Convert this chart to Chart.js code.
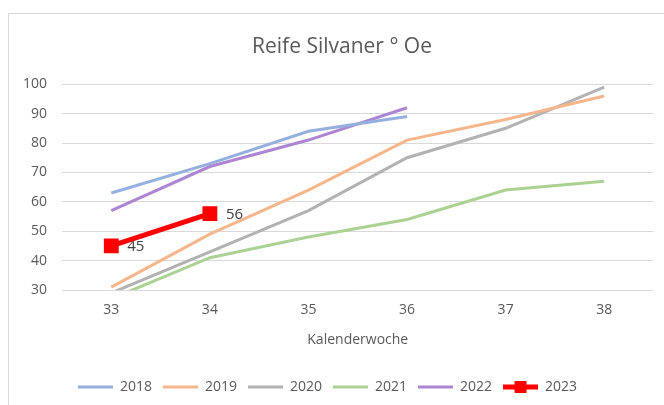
<!DOCTYPE html>
<html>
<head>
<meta charset="utf-8">
<script src="https://cdn.jsdelivr.net/npm/chart.js@4.4.1/dist/chart.umd.min.js"></script>
<style>
  html, body { margin: 0; padding: 0; background: #fff; }
  #wrap { position: relative; width: 664px; height: 405px; overflow: hidden; }
  #frame { position: absolute; left: 8px; top: 13px; width: 720px; height: 440px; border: 1px solid #d9d9d9; box-sizing: border-box; }
  #chart { position: absolute; left: 0; top: 0; }
</style>
</head>
<body>
<div id="wrap">
  <div id="frame"></div>
  <canvas id="chart" width="664" height="405"></canvas>
</div>
<script>
// Kalenderwochen
const weeks = ['33', '34', '35', '36', '37', '38'];

// Oechsle-Werte je Jahr
const y2018 = [63, 73, 84, 89, null, null];
const y2019 = [31, 49, 64, 81, 88, 96];
const y2020 = [29, 43, 57, 75, 85, 99];
const y2021 = [27, 41, 48, 54, 64, 67];
const y2022 = [57, 72, 81, 92, null, null];
const y2023 = [45, 56, null, null, null, null];

const yTicks = [30, 40, 50, 60, 70, 80, 90, 100];

const FONT = "'Open Sans', sans-serif";
const TEXT = '#595959';

// legend swatch: a short line, optionally with a square marker
function swatch(color, width, marker) {
    const c = document.createElement('canvas');
    c.width = 35;
    c.height = 14;
    const g = c.getContext('2d');
    g.strokeStyle = color;
    g.lineWidth = width;
    g.beginPath();
    g.moveTo(0, 7);
    g.lineTo(35, 7);
    g.stroke();
    if (marker) {
        g.fillStyle = color;
        g.fillRect(11.5, 1, 12, 12);
    }
    return c;
}

function series(label, data, color, width) {
    return {
        label: label,
        data: data,
        borderColor: color,
        backgroundColor: color,
        borderWidth: width,
        pointRadius: 0,
        pointHoverRadius: 0,
        tension: 0,
        clip: { left: 10, right: 10, top: 10, bottom: 0 },
        legendIcon: swatch(color, width, false)
    };
}

const datasets = [
    series('2018', y2018, '#95b0de', 3),
    series('2019', y2019, '#f6b68c', 3),
    series('2020', y2020, '#b2b2b2', 3),
    series('2021', y2021, '#acd293', 3),
    series('2022', y2022, '#ad86d3', 3),
    {
        label: '2023',
        data: y2023,
        borderColor: '#ff0000',
        backgroundColor: '#ff0000',
        borderWidth: 5,
        pointStyle: 'rect',
        pointRadius: 10.5,
        pointHoverRadius: 10.5,
        pointBorderWidth: 0,
        tension: 0,
        clip: { left: 12, right: 12, top: 12, bottom: 0 },
        legendIcon: swatch('#ff0000', 5, true),
        showLabels: true
    }
];

// value labels next to the 2023 points
const valueLabels = {
    id: 'valueLabels',
    afterDatasetsDraw(chart) {
        const ctx = chart.ctx;
        chart.data.datasets.forEach(function(ds, i) {
            if (!ds.showLabels) return;
            const meta = chart.getDatasetMeta(i);
            meta.data.forEach(function(pt, j) {
                if (ds.data[j] == null) return;
                ctx.save();
                ctx.font = '15px ' + FONT;
                ctx.fillStyle = '#404040';
                ctx.textAlign = 'left';
                ctx.textBaseline = 'middle';
                ctx.fillText(String(ds.data[j]), pt.x + 16, pt.y + 1);
                ctx.restore();
            });
        });
    }
};

// the title sits a little right of the canvas centre in the original
const shiftTitle = {
    id: 'shiftTitle',
    afterLayout(chart) {
        if (chart.titleBlock) {
            chart.titleBlock.left = 29;
            chart.titleBlock.right = 655;
        }
    }
};

new Chart(document.getElementById('chart'), {
    type: 'line',
    data: { labels: weeks, datasets: datasets },
    options: {
        responsive: false,
        animation: false,
        events: [],
        layout: { padding: { left: 0, right: 9, top: 0, bottom: 1 } },
        plugins: {
            title: {
                display: true,
                text: 'Reife Silvaner ° Oe',
                color: TEXT,
                font: { family: FONT, size: 21, weight: 'normal' },
                padding: { top: 34, bottom: 25 }
            },
            legend: {
                position: 'bottom',
                labels: {
                    color: TEXT,
                    font: { family: FONT, size: 14 },
                    usePointStyle: true,
                    pointStyleWidth: 35,
                    padding: 11,
                    generateLabels(chart) {
                        return chart.data.datasets.map(function(ds, i) {
                            return {
                                text: ds.label,
                                pointStyle: ds.legendIcon,
                                fillStyle: ds.borderColor,
                                strokeStyle: ds.borderColor,
                                lineWidth: 0,
                                fontColor: TEXT,
                                hidden: false,
                                datasetIndex: i
                            };
                        });
                    }
                }
            },
            tooltip: { enabled: false }
        },
        scales: {
            x: {
                offset: true,
                afterFit(scale) { scale.height = 79; },
                grid: { display: false, drawTicks: false, offset: true },
                border: { display: false },
                ticks: { color: TEXT, font: { family: FONT, size: 14 }, padding: 12 },
                title: {
                    display: true,
                    text: 'Kalenderwoche',
                    color: TEXT,
                    font: { family: FONT, size: 14 },
                    padding: { top: 4, bottom: 21 }
                }
            },
            y: {
                min: 30,
                max: 100,
                afterBuildTicks(scale) {
                    scale.ticks = yTicks.map(function(v) { return { value: v }; });
                },
                afterFit(scale) { scale.width = 62; },
                grid: { color: '#d9d9d9', lineWidth: 1, drawTicks: false },
                border: { display: false },
                ticks: { color: TEXT, font: { family: FONT, size: 14 }, padding: 15 }
            }
        }
    },
    plugins: [valueLabels, shiftTitle]
});
</script>
</body>
</html>
